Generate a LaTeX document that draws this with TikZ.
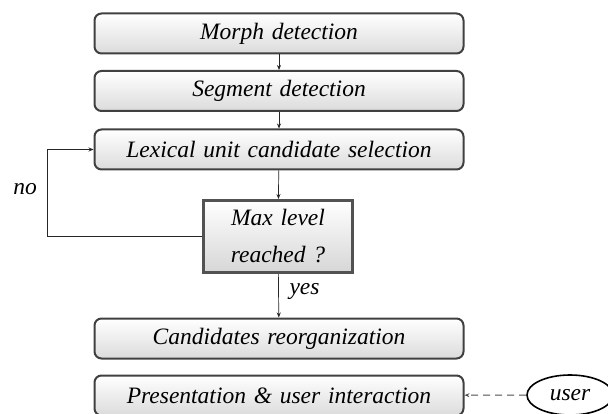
\documentclass[tikz,border=0pt]{standalone}
\usepackage{fontspec}
\setmainfont{Liberation Serif}
\usetikzlibrary{arrows.meta,shapes.geometric}
\tikzset{
  procbox/.style={draw=black!75, line width=2pt, rounded corners=7pt,
    top color=white, bottom color=black!14, minimum width=369pt, minimum height=40pt,
    inner sep=0pt, font=\fontsize{23.5}{26}\selectfont\itshape},
  decbox/.style={draw=black!68, line width=3pt,
    top color=white, bottom color=black!16, minimum width=149pt, minimum height=72pt,
    inner sep=0pt, align=center, font=\fontsize{23.5}{37}\selectfont\itshape},
  flow/.style={-{Stealth[length=5pt,width=4pt]}, line width=0.7pt, draw=black!85},
  lbl/.style={font=\fontsize{23.5}{26}\selectfont\itshape},
}
\newcommand{\ws}{\spaceskip=0.33em plus 0.1em\relax}
\begin{document}
\begin{tikzpicture}[x=1pt,y=-1pt]
\useasboundingbox (0,0) rectangle (608,414);
\node[procbox] (m) at (279,33.5) {\ws Morph detection};
\node[procbox] (s) at (279,91) {\ws Segment detection};
\node[procbox] (l) at (279,149.5) {\ws Lexical unit candidate selection};
\node[decbox] (d) at (278,236.5) {\ws Max level\\\ws reached ?};
\node[procbox] (c) at (279,338.5) {\ws Candidates reorganization};
\node[procbox] (p) at (279,395.5) {\ws Presentation \& user interaction};
\node[draw, ellipse, line width=1.6pt, minimum width=86pt, minimum height=40pt, inner sep=0pt, lbl] (u) at (570,395) {user};
\coordinate (lc) at (47,149.5);
\coordinate (dc) at (47,236.5);
\draw[flow] (m) -- (s);
\draw[flow] (s) -- (l);
\draw[flow] (l) -- (d);
\draw[flow] (d) -- (c);
\draw[flow] (d.west) -- (dc) -- (lc) -- (l.west);
\draw[flow, dashed, dash pattern=on 7pt off 5pt, draw=black!70, line width=0.9pt] (u) -- (p);
\node[lbl] (no) at (25,189) {no};
\node[lbl, anchor=west] (yes) at (286,291) {yes};
\end{tikzpicture}
\end{document}
